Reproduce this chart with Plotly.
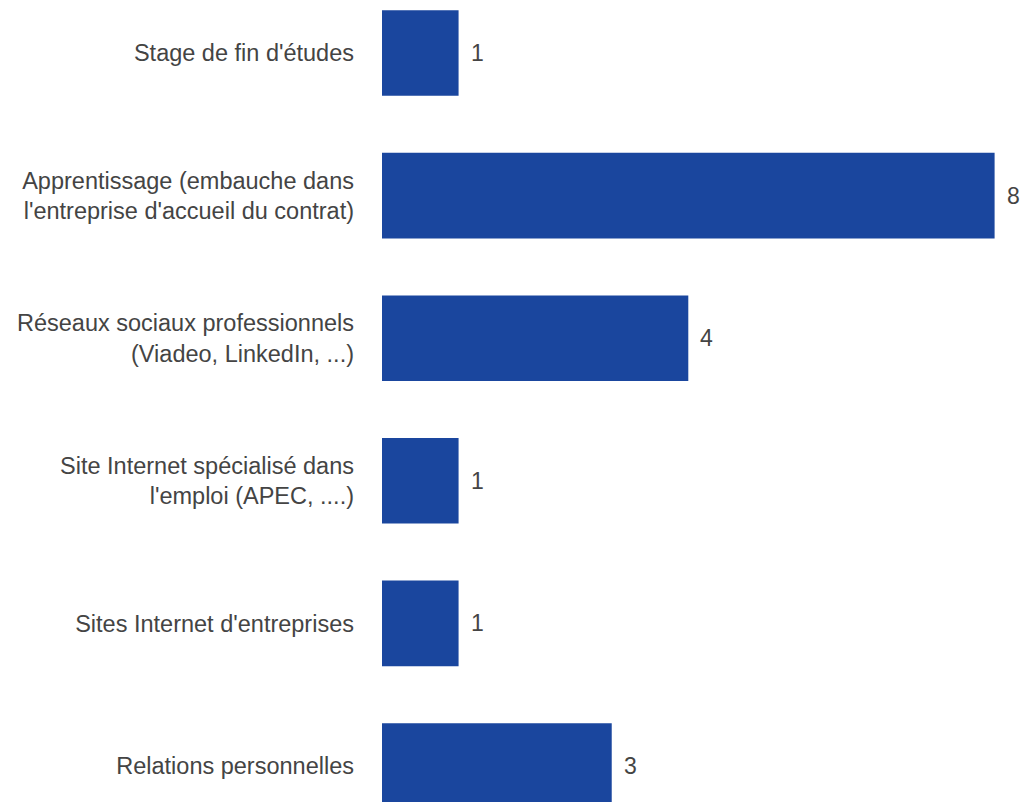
import plotly.graph_objects as go

categories = [
    "Stage de fin d'études",
    "Apprentissage (embauche dans<br>l'entreprise d'accueil du contrat)",
    "Réseaux sociaux professionnels<br>(Viadeo, LinkedIn, ...)",
    "Site Internet spécialisé dans<br>l'emploi (APEC, ....)",
    "Sites Internet d'entreprises",
    "Relations personnelles",
]
values = [1, 8, 4, 1, 1, 3]

FONT = "Liberation Sans, Arial, sans-serif"

fig = go.Figure(
    go.Bar(
        x=values,
        y=categories,
        orientation="h",
        marker=dict(color="#1a469e", line=dict(width=0)),
        hoverinfo="skip",
    )
)

for c, v in zip(categories, values):
    fig.add_annotation(
        x=v, y=c, text=str(v), showarrow=False, xanchor="left", xshift=10,
        font=dict(family=FONT, size=23, color="#444444"),
    )

fig.update_layout(
    width=1026,
    height=802,
    margin=dict(l=382, r=0, t=0, b=0),
    paper_bgcolor="white",
    plot_bgcolor="white",
    bargap=0.4,
    showlegend=False,
    font=dict(family=FONT, size=23, color="#444444"),
    xaxis=dict(range=[0, 8.41], visible=False, showgrid=False, zeroline=False),
    yaxis=dict(
        range=[5.2525, -0.3717],
        showgrid=False,
        zeroline=False,
        showline=False,
        ticks="",
        ticklabelstandoff=27,
        tickfont=dict(family=FONT, size=23.5, color="#444444"),
    ),
)

fig.write_html(
    "out.html",
    config={"displayModeBar": False},
    post_script="document.body.style.margin='0';document.body.style.overflow='hidden';",
)
